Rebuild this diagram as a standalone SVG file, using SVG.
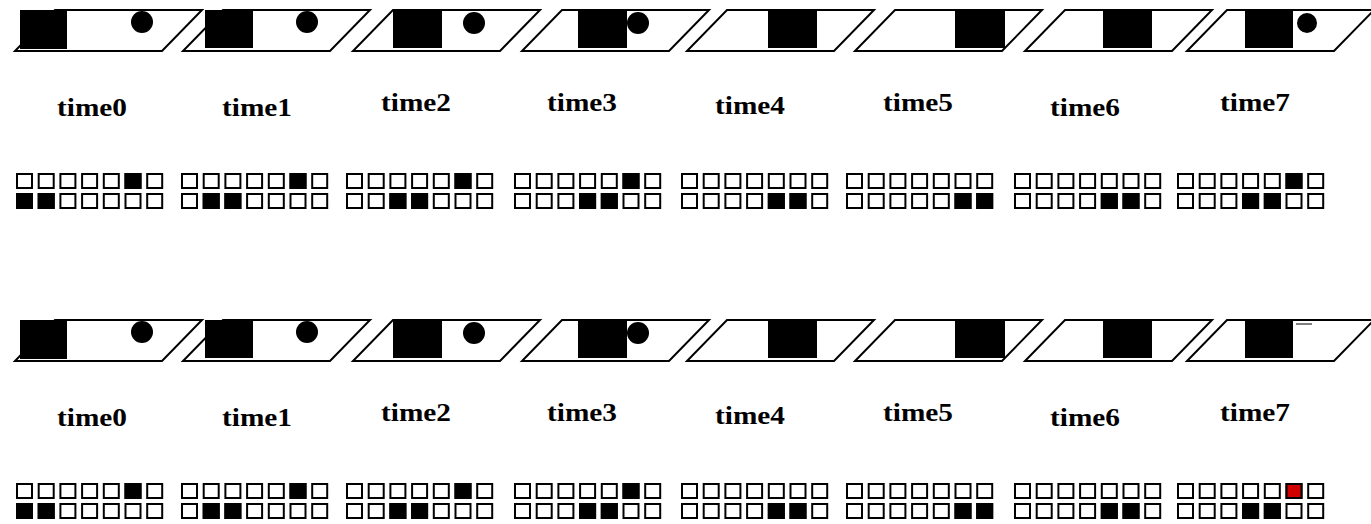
<svg xmlns="http://www.w3.org/2000/svg" xmlns:xlink="http://www.w3.org/1999/xlink" width="1371" height="524" viewBox="0 0 1371 524">
<style>
.pg{fill:none;stroke:#000;stroke-width:2}
.blk{fill:#000}
.lbl{font-family:"Liberation Serif","Times New Roman",serif;font-weight:bold;font-size:25px;fill:#000;text-anchor:middle}
.hs{fill:#fff;stroke:#000;stroke-width:2}
.fs{fill:#000;stroke:#000;stroke-width:2}
.rs{fill:#d00000;stroke:#000;stroke-width:2}
</style>
<defs>
<g id="row7">
<rect class="hs" x="0" y="0" width="15" height="14"/>
<rect class="hs" x="21.7" y="0" width="15" height="14"/>
<rect class="hs" x="43.4" y="0" width="15" height="14"/>
<rect class="hs" x="65.1" y="0" width="15" height="14"/>
<rect class="hs" x="86.8" y="0" width="15" height="14"/>
<rect class="hs" x="108.5" y="0" width="15" height="14"/>
<rect class="hs" x="130.2" y="0" width="15" height="14"/>
</g>
<polygon id="pgram" class="pg" points="0,51 147,51 187,10 40,10"/>
</defs>
<rect width="1371" height="524" fill="#fff"/>

<!-- TOP PANEL -->
<g id="top-frame0">
<use xlink:href="#pgram" x="15"/>
<rect class="blk" x="20" y="10" width="47" height="39"/>
<circle class="blk" cx="142" cy="22" r="11"/>
<text class="lbl" x="92" y="116" textLength="70" lengthAdjust="spacingAndGlyphs">time0</text>
<use xlink:href="#row7" x="17" y="174"/><use xlink:href="#row7" x="17" y="194"/>
<rect class="fs" x="125.5" y="174" width="15" height="14"/>
<rect class="fs" x="17" y="194" width="15" height="14"/><rect class="fs" x="38.7" y="194" width="15" height="14"/>
</g>
<g id="top-frame1">
<use xlink:href="#pgram" x="183"/>
<rect class="blk" x="205" y="10" width="48" height="38"/>
<circle class="blk" cx="307" cy="22" r="11"/>
<text class="lbl" x="257" y="116" textLength="70" lengthAdjust="spacingAndGlyphs">time1</text>
<use xlink:href="#row7" x="182" y="174"/><use xlink:href="#row7" x="182" y="194"/>
<rect class="fs" x="290.5" y="174" width="15" height="14"/>
<rect class="fs" x="203.7" y="194" width="15" height="14"/><rect class="fs" x="225.4" y="194" width="15" height="14"/>
</g>
<g id="top-frame2">
<use xlink:href="#pgram" x="353"/>
<rect class="blk" x="393" y="10" width="49" height="38"/>
<circle class="blk" cx="474" cy="23" r="11"/>
<text class="lbl" x="416" y="111" textLength="70" lengthAdjust="spacingAndGlyphs">time2</text>
<use xlink:href="#row7" x="347" y="174"/><use xlink:href="#row7" x="347" y="194"/>
<rect class="fs" x="455.5" y="174" width="15" height="14"/>
<rect class="fs" x="390.4" y="194" width="15" height="14"/><rect class="fs" x="412.1" y="194" width="15" height="14"/>
</g>
<g id="top-frame3">
<use xlink:href="#pgram" x="522"/>
<rect class="blk" x="578" y="10" width="49" height="38"/>
<circle class="blk" cx="638" cy="23" r="11"/>
<text class="lbl" x="582" y="111" textLength="70" lengthAdjust="spacingAndGlyphs">time3</text>
<use xlink:href="#row7" x="515" y="174"/><use xlink:href="#row7" x="515" y="194"/>
<rect class="fs" x="623.5" y="174" width="15" height="14"/>
<rect class="fs" x="580.1" y="194" width="15" height="14"/><rect class="fs" x="601.8" y="194" width="15" height="14"/>
</g>
<g id="top-frame4">
<use xlink:href="#pgram" x="687"/>
<rect class="blk" x="768" y="10" width="49" height="38"/>
<text class="lbl" x="750" y="114" textLength="70" lengthAdjust="spacingAndGlyphs">time4</text>
<use xlink:href="#row7" x="682" y="174"/><use xlink:href="#row7" x="682" y="194"/>
<rect class="fs" x="768.8" y="194" width="15" height="14"/><rect class="fs" x="790.5" y="194" width="15" height="14"/>
</g>
<g id="top-frame5">
<use xlink:href="#pgram" x="855"/>
<rect class="blk" x="955" y="10" width="50" height="38"/>
<text class="lbl" x="918" y="111" textLength="70" lengthAdjust="spacingAndGlyphs">time5</text>
<use xlink:href="#row7" x="847" y="174"/><use xlink:href="#row7" x="847" y="194"/>
<rect class="fs" x="955.5" y="194" width="15" height="14"/><rect class="fs" x="977.2" y="194" width="15" height="14"/>
</g>
<g id="top-frame6">
<use xlink:href="#pgram" x="1025"/>
<rect class="blk" x="1103" y="10" width="49" height="38"/>
<text class="lbl" x="1085" y="116" textLength="70" lengthAdjust="spacingAndGlyphs">time6</text>
<use xlink:href="#row7" x="1015" y="174"/><use xlink:href="#row7" x="1015" y="194"/>
<rect class="fs" x="1101.8" y="194" width="15" height="14"/><rect class="fs" x="1123.5" y="194" width="15" height="14"/>
</g>
<g id="top-frame7">
<use xlink:href="#pgram" x="1187"/>
<rect class="blk" x="1245" y="10" width="48" height="38"/>
<circle class="blk" cx="1307" cy="23" r="10"/>
<text class="lbl" x="1255" y="111" textLength="70" lengthAdjust="spacingAndGlyphs">time7</text>
<use xlink:href="#row7" x="1178" y="174"/><use xlink:href="#row7" x="1178" y="194"/>
<rect class="fs" x="1286.5" y="174" width="15" height="14"/>
<rect class="fs" x="1243.1" y="194" width="15" height="14"/><rect class="fs" x="1264.8" y="194" width="15" height="14"/>
</g>

<!-- BOTTOM PANEL -->
<g id="bottom-frame0" transform="translate(0,310)">
<use xlink:href="#pgram" x="15"/>
<rect class="blk" x="20" y="10" width="47" height="39"/>
<circle class="blk" cx="142" cy="22" r="11"/>
<text class="lbl" x="92" y="116" textLength="70" lengthAdjust="spacingAndGlyphs">time0</text>
<use xlink:href="#row7" x="17" y="174"/><use xlink:href="#row7" x="17" y="194"/>
<rect class="fs" x="125.5" y="174" width="15" height="14"/>
<rect class="fs" x="17" y="194" width="15" height="14"/><rect class="fs" x="38.7" y="194" width="15" height="14"/>
</g>
<g id="bottom-frame1" transform="translate(0,310)">
<use xlink:href="#pgram" x="183"/>
<rect class="blk" x="205" y="10" width="48" height="38"/>
<circle class="blk" cx="307" cy="22" r="11"/>
<text class="lbl" x="257" y="116" textLength="70" lengthAdjust="spacingAndGlyphs">time1</text>
<use xlink:href="#row7" x="182" y="174"/><use xlink:href="#row7" x="182" y="194"/>
<rect class="fs" x="290.5" y="174" width="15" height="14"/>
<rect class="fs" x="203.7" y="194" width="15" height="14"/><rect class="fs" x="225.4" y="194" width="15" height="14"/>
</g>
<g id="bottom-frame2" transform="translate(0,310)">
<use xlink:href="#pgram" x="353"/>
<rect class="blk" x="393" y="10" width="49" height="38"/>
<circle class="blk" cx="474" cy="23" r="11"/>
<text class="lbl" x="416" y="111" textLength="70" lengthAdjust="spacingAndGlyphs">time2</text>
<use xlink:href="#row7" x="347" y="174"/><use xlink:href="#row7" x="347" y="194"/>
<rect class="fs" x="455.5" y="174" width="15" height="14"/>
<rect class="fs" x="390.4" y="194" width="15" height="14"/><rect class="fs" x="412.1" y="194" width="15" height="14"/>
</g>
<g id="bottom-frame3" transform="translate(0,310)">
<use xlink:href="#pgram" x="522"/>
<rect class="blk" x="578" y="10" width="49" height="38"/>
<circle class="blk" cx="638" cy="23" r="11"/>
<text class="lbl" x="582" y="111" textLength="70" lengthAdjust="spacingAndGlyphs">time3</text>
<use xlink:href="#row7" x="515" y="174"/><use xlink:href="#row7" x="515" y="194"/>
<rect class="fs" x="623.5" y="174" width="15" height="14"/>
<rect class="fs" x="580.1" y="194" width="15" height="14"/><rect class="fs" x="601.8" y="194" width="15" height="14"/>
</g>
<g id="bottom-frame4" transform="translate(0,310)">
<use xlink:href="#pgram" x="687"/>
<rect class="blk" x="768" y="10" width="49" height="38"/>
<text class="lbl" x="750" y="114" textLength="70" lengthAdjust="spacingAndGlyphs">time4</text>
<use xlink:href="#row7" x="682" y="174"/><use xlink:href="#row7" x="682" y="194"/>
<rect class="fs" x="768.8" y="194" width="15" height="14"/><rect class="fs" x="790.5" y="194" width="15" height="14"/>
</g>
<g id="bottom-frame5" transform="translate(0,310)">
<use xlink:href="#pgram" x="855"/>
<rect class="blk" x="955" y="10" width="50" height="38"/>
<text class="lbl" x="918" y="111" textLength="70" lengthAdjust="spacingAndGlyphs">time5</text>
<use xlink:href="#row7" x="847" y="174"/><use xlink:href="#row7" x="847" y="194"/>
<rect class="fs" x="955.5" y="194" width="15" height="14"/><rect class="fs" x="977.2" y="194" width="15" height="14"/>
</g>
<g id="bottom-frame6" transform="translate(0,310)">
<use xlink:href="#pgram" x="1025"/>
<rect class="blk" x="1103" y="10" width="49" height="38"/>
<text class="lbl" x="1085" y="116" textLength="70" lengthAdjust="spacingAndGlyphs">time6</text>
<use xlink:href="#row7" x="1015" y="174"/><use xlink:href="#row7" x="1015" y="194"/>
<rect class="fs" x="1101.8" y="194" width="15" height="14"/><rect class="fs" x="1123.5" y="194" width="15" height="14"/>
</g>
<g id="bottom-frame7" transform="translate(0,310)">
<use xlink:href="#pgram" x="1187"/>
<rect class="blk" x="1245" y="10" width="48" height="38"/>
<line x1="1296" y1="14" x2="1312" y2="14" stroke="#000" stroke-width="1"/>
<text class="lbl" x="1255" y="111" textLength="70" lengthAdjust="spacingAndGlyphs">time7</text>
<use xlink:href="#row7" x="1178" y="174"/><use xlink:href="#row7" x="1178" y="194"/>
<rect class="rs" x="1286.5" y="174" width="15" height="14"/>
<rect class="fs" x="1243.1" y="194" width="15" height="14"/><rect class="fs" x="1264.8" y="194" width="15" height="14"/>
</g>
</svg>
